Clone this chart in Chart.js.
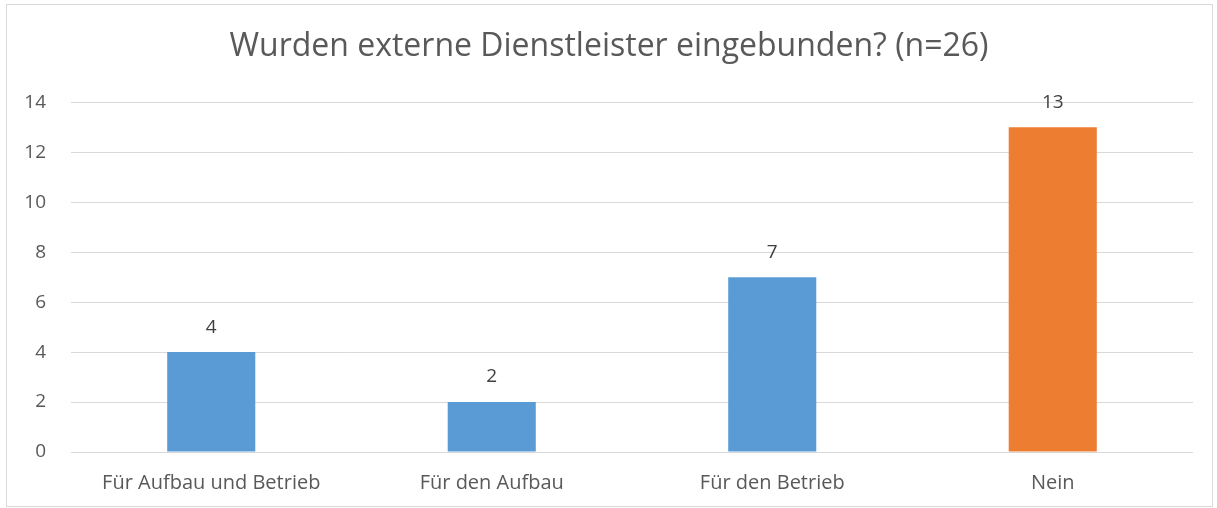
<!DOCTYPE html>
<html>
<head>
<meta charset="utf-8">
<script src="https://cdn.jsdelivr.net/npm/chart.js@4/dist/chart.umd.min.js"></script>
<style>
  body { margin: 0; background: #fff; }
  #box { position: absolute; left: 6px; top: 4px; width: 1205px; height: 501px; border: 1px solid #d9d9d9; }
</style>
</head>
<body>
<div id="box"><canvas id="chart"></canvas></div>
<script>
// chart data
const categories = ["Für Aufbau und Betrieb", "Für den Aufbau", "Für den Betrieb", "Nein"];
const counts = [4, 2, 7, 13];
const barColors = ["#5b9bd5", "#5b9bd5", "#5b9bd5", "#ed7d31"];

// value labels above the bars
const valueLabels = {
  id: 'valueLabels',
  afterDatasetsDraw(chart) {
    const ctx = chart.ctx;
    const meta = chart.getDatasetMeta(0);
    ctx.save();
    ctx.font = '19px "Open Sans", sans-serif';
    ctx.fillStyle = '#404040';
    ctx.textAlign = 'center';
    ctx.textBaseline = 'middle';
    meta.data.forEach((bar, i) => {
      ctx.fillText(String(counts[i]), bar.x, bar.y - 25);
    });
    ctx.restore();
  }
};

new Chart(document.getElementById("chart"), {
  type: 'bar',
  data: {
    labels: categories,
    datasets: [{
      label: "Anzahl",
      data: counts,
      backgroundColor: barColors,
      categoryPercentage: 1,
      barPercentage: 0.314
    }]
  },
  options: {
    responsive: true,
    maintainAspectRatio: false,
    animation: false,
    layout: { padding: { left: 18, right: 19, top: 6, bottom: 11 } },
    plugins: {
      legend: { display: false },
      tooltip: { enabled: false },
      title: {
        display: true,
        text: 'Wurden externe Dienstleister eingebunden? (n=26)',
        color: '#595959',
        font: { family: '"Open Sans", sans-serif', size: 32, weight: 'normal' },
        padding: { top: 17, bottom: 36 }
      }
    },
    scales: {
      x: {
        grid: { display: false, drawTicks: false },
        border: { display: false },
        ticks: { maxRotation: 0, color: '#595959', font: { family: '"Open Sans", sans-serif', size: 20 }, padding: 19 },
        afterFit(scale) { scale.height = 43; }
      },
      y: {
        min: 0,
        max: 14,
        grid: { color: '#d9d9d9', lineWidth: 1, drawTicks: false },
        border: { display: false },
        ticks: { stepSize: 2, color: '#595959', font: { family: '"Open Sans", sans-serif', size: 19 }, padding: 25 },
        afterFit(scale) { scale.width = 46; }
      }
    }
  },
  plugins: [valueLabels]
});
</script>
</body>
</html>
